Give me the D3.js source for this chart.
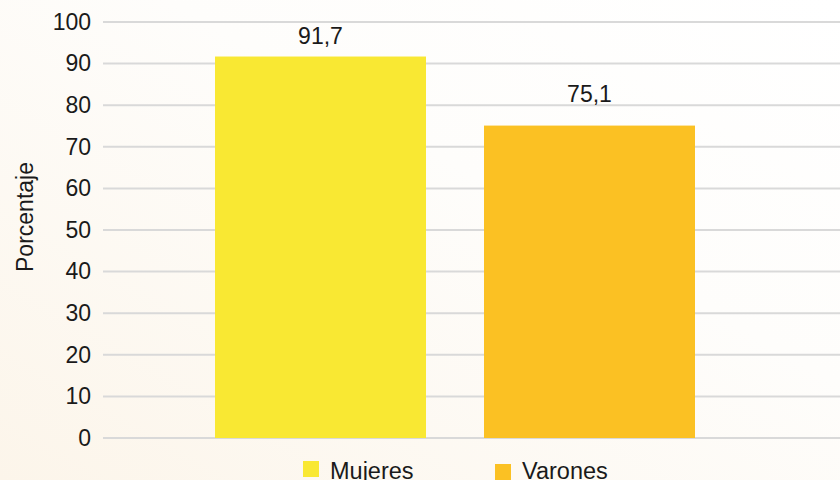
<!DOCTYPE html>
<html><head><meta charset="utf-8">
<script src="https://cdn.jsdelivr.net/npm/d3@7"></script>
<style>html,body{margin:0;padding:0;overflow:hidden}</style>
</head><body>
<svg id="c" width="840" height="480"></svg>
<script>
const categories = ["Mujeres", "Varones"];
const values = [91.7, 75.1];
const labels = ["91,7", "75,1"];
const colors = ["#F9E833", "#FBC123"];
const yTicks = [0,10,20,30,40,50,60,70,80,90,100];

const svg = d3.select("#c");
const W = 840, H = 480;
const defs = svg.append("defs");
const g0 = defs.append("linearGradient").attr("id","bg").attr("x1","0").attr("y1","1").attr("x2","1").attr("y2","0");
g0.append("stop").attr("offset","0").attr("stop-color","#FCF5EA");
g0.append("stop").attr("offset","0.6").attr("stop-color","#FEFDFB");
g0.append("stop").attr("offset","1").attr("stop-color","#FFFFFF");
svg.append("rect").attr("width",W).attr("height",H).attr("fill","url(#bg)");

const y = d3.scaleLinear().domain([0,100]).range([438,22]);
const x = d3.scaleBand().domain(categories).range([186,724]).paddingInner(0.2156).paddingOuter(0.1078);

const font = "'Liberation Sans', Arial, Helvetica, sans-serif";
const fs = 23;

const yAxis = d3.axisLeft(y).tickValues(yTicks).tickSize(0).tickPadding(12).tickFormat(d => d);
const ax = svg.append("g").attr("transform","translate(103,0)").call(yAxis);
ax.select(".domain").remove();
ax.selectAll("text").attr("font-family",font).attr("font-size",fs).attr("fill","#1a1a1a");

svg.append("g").selectAll("line").data(yTicks).join("line")
  .attr("x1",103).attr("x2",W).attr("y1",d=>y(d)).attr("y2",d=>y(d))
  .attr("stroke","#D9D9D9").attr("stroke-width",2);

svg.append("g").selectAll("rect").data(categories).join("rect")
  .attr("x",d=>x(d)).attr("width",x.bandwidth())
  .attr("y",(d,i)=>y(values[i])).attr("height",(d,i)=>y(0)-y(values[i]))
  .attr("fill",(d,i)=>colors[i]);

const labelGap = [13, 24];
svg.append("g").selectAll("text").data(categories).join("text")
  .attr("x",d=>x(d)+x.bandwidth()/2).attr("y",(d,i)=>y(values[i])-labelGap[i])
  .attr("text-anchor","middle").attr("font-family",font).attr("font-size",fs).attr("fill","#1a1a1a")
  .text((d,i)=>labels[i]);

svg.append("text").attr("transform","translate(33,217) rotate(-90)")
  .attr("text-anchor","middle").attr("font-family",font).attr("font-size",fs).attr("fill","#1a1a1a")
  .text("Porcentaje");

const legX = [303, 495], legY = [461, 464], txtX = [330, 522];
const leg = svg.append("g").selectAll("g").data(categories).join("g");
leg.append("rect").attr("x",(d,i)=>legX[i]).attr("y",(d,i)=>legY[i]).attr("width",16).attr("height",16).attr("fill",(d,i)=>colors[i]);
leg.append("text").attr("x",(d,i)=>txtX[i]).attr("y",478.5)
  .attr("font-family",font).attr("font-size",23.5).attr("fill","#1a1a1a").text(d=>d);
</script>
</body></html>
